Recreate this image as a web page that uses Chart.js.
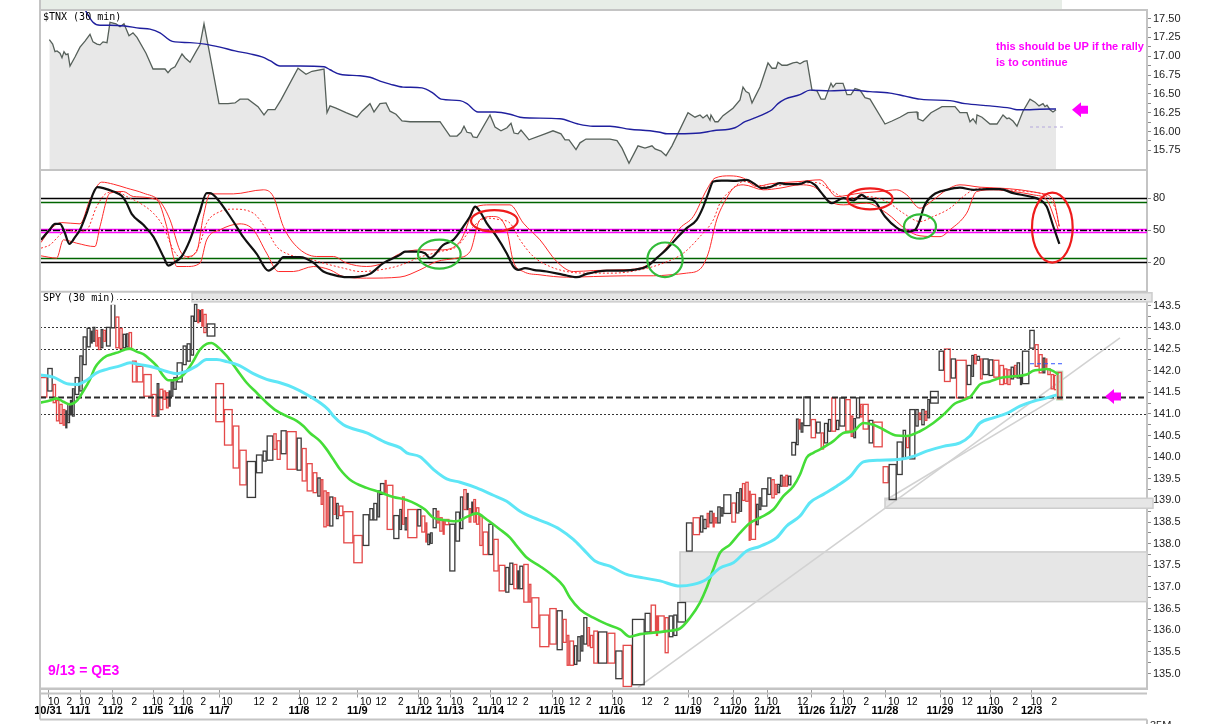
<!DOCTYPE html>
<html>
<head>
<meta charset="utf-8">
<script src="https://cdn.jsdelivr.net/npm/chart.js@4.4.1/dist/chart.umd.min.js"></script>
<style>
  html, body { margin: 0; padding: 0; background: #fff; }
  #wrap { width: 1208px; height: 724px; }
</style>
</head>
<body>
<div id="wrap"><canvas id="chart" width="1208" height="724"></canvas></div>
<script>
// x runs along cumulative SPY volume (equivolume boxes), arbitrary units
const X_MAX = 3321;

// SPY 30 min equivolume boxes
const spyVol = [22,16,10,10,10,8,6,8,6,8,14,10,12,12,6,8,8,8,8,8,14,14,12,10,10,8,10,14,20,25,15,8,12,8,8,6,8,10,18,12,12,10,10,6,6,6,10,26,26,26,20,22,28,20,12,20,10,12,18,30,15,15,
  18,14,10,8,10,8,12,8,8,14,30,28,20,12,12,8,14,6,20,18,8,8,8,30,12,12,6,8,8,12,8,10,6,14,18,14,10,10,6,8,6,8,10,10,17,15,16,20,12,12,12,6,12,16,8,24,30,22,18,12,8,
  14,10,10,8,12,8,10,14,28,24,22,28,38,18,16,6,20,12,14,12,26,20,22,10,10,8,10,6,8,10,8,24,14,10,8,10,10,6,16,8,8,18,12,10,8,8,8,8,8,10,14,8,6,8,22,
  16,14,10,12,10,14,10,18,16,8,8,12,8,18,14,28,18,24,18,10,10,18,10,8,10,8,8,26,16,20,16,32,14,8,8,10,8,18,14,18,14,10,10,10,8,10,6,22,16,12,12,8,6,10,10,10,14];
const spyHigh = [141.84,142.05,141.68,141.31,141.22,141.10,141.07,141.22,141.31,141.58,141.84,142.34,142.78,142.98,142.91,143.00,142.93,142.76,142.95,142.93,143.00,143.54,143.24,142.98,142.84,142.85,142.88,142.22,142.10,141.91,141.45,141.70,141.57,141.53,141.49,141.53,141.74,141.84,142.18,142.57,142.62,143.26,143.53,143.41,143.39,143.41,143.30,143.08,141.70,141.10,140.72,140.16,139.90,140.05,140.14,140.49,140.54,140.38,140.61,140.59,140.44,140.20,
  139.85,139.64,139.52,139.48,139.22,139.18,139.08,139.06,138.93,138.87,138.74,138.19,138.67,138.81,138.93,139.22,139.39,139.46,139.35,138.65,138.79,139.08,138.60,138.79,138.79,138.64,138.48,138.22,138.25,138.81,138.75,138.60,138.52,138.56,138.45,138.73,139.08,139.25,139.16,138.81,138.96,139.02,138.83,138.64,138.27,138.45,138.10,137.50,137.45,137.55,137.52,137.37,137.48,137.52,137.06,136.75,136.35,136.50,136.45,136.25,135.88,
  135.75,135.64,135.85,135.87,136.29,136.06,135.88,135.98,135.96,135.93,135.52,135.65,136.25,136.39,136.58,136.33,136.33,136.29,136.33,136.35,136.64,138.48,138.60,138.64,138.56,138.70,138.75,138.70,138.60,138.85,138.83,139.13,138.94,139.18,139.27,139.39,139.42,139.21,139.14,138.91,139.06,139.27,139.52,139.48,139.37,139.37,139.58,139.54,139.58,139.56,140.34,140.88,140.87,140.79,141.39,
  140.87,140.81,140.56,140.78,140.87,141.37,140.85,141.37,141.33,140.95,140.89,141.37,141.22,141.22,140.85,140.81,139.78,139.83,140.35,140.62,140.49,141.10,141.10,141.02,141.10,141.06,141.33,141.52,142.45,142.50,142.27,142.24,142.12,142.35,142.37,142.33,142.27,142.27,142.25,142.24,142.12,142.04,142.02,142.08,142.12,142.18,141.85,142.45,142.93,142.60,142.37,142.29,142.27,142.04,141.91,141.89,141.96];
const spyLow = [141.39,141.53,141.26,140.84,140.78,140.74,140.68,140.80,140.98,140.95,141.45,141.53,142.14,142.55,142.64,142.68,142.57,142.49,142.53,142.68,142.57,142.99,142.53,142.51,142.53,142.55,142.49,141.74,141.74,141.41,140.95,140.95,141.10,141.34,141.14,141.18,141.41,141.57,141.74,142.14,142.22,142.36,143.14,143.11,143.14,143.03,142.88,142.80,140.82,140.28,139.75,139.36,139.07,139.64,139.91,139.93,140.18,139.95,140.08,139.72,139.70,139.45,
  139.22,139.18,139.10,138.91,138.39,138.42,138.41,138.68,138.58,138.65,138.02,137.56,137.96,138.55,138.55,138.62,139.14,139.19,138.33,138.12,138.33,138.45,138.32,138.14,138.41,138.27,138.04,137.98,138.01,138.37,138.48,138.29,138.22,138.44,137.37,138.06,138.35,138.79,138.79,138.50,138.68,138.50,138.45,137.96,137.75,137.75,137.37,136.91,136.88,137.06,136.96,136.96,136.96,136.65,136.65,136.06,135.62,135.68,135.55,135.72,135.19,
  135.19,135.21,135.29,135.52,135.68,135.64,135.60,135.24,135.24,135.24,134.88,134.70,134.74,135.96,135.96,135.88,135.96,135.48,135.85,135.88,136.19,137.83,138.21,138.27,138.35,138.39,138.48,138.39,138.48,138.48,138.64,138.70,138.50,138.71,138.75,139.00,138.98,138.08,138.10,138.44,138.79,138.87,139.14,139.06,139.14,139.18,139.33,139.33,139.33,139.36,140.05,140.29,140.65,140.58,140.73,
  140.45,140.56,140.19,140.33,140.60,140.60,140.64,140.72,140.60,140.48,140.45,140.91,140.93,140.65,140.33,140.24,139.41,139.02,139.60,139.99,140.22,139.96,140.72,140.87,140.75,140.85,140.91,141.25,142.01,141.75,141.83,141.37,141.68,141.87,142.16,142.24,141.81,141.91,141.89,141.85,141.68,141.70,141.68,141.81,141.85,141.83,141.68,141.70,142.52,142.10,141.95,141.95,142.08,141.91,141.58,141.56,141.35];
const spyUp = [0,1,0,0,0,0,1,1,1,1,1,1,1,1,1,1,0,0,1,0,1,1,0,0,1,1,0,0,0,0,0,1,0,0,0,1,1,1,1,1,1,1,1,0,1,0,0,1,0,0,0,0,1,1,1,1,0,0,1,0,1,0,
  0,0,1,0,0,0,1,0,1,0,0,0,1,1,1,1,1,0,0,1,1,0,1,0,1,0,0,1,1,1,0,0,0,0,1,1,1,0,1,0,1,0,0,0,0,1,0,0,1,1,0,1,1,0,0,0,0,0,1,0,0,
  0,1,1,1,1,0,0,0,1,0,1,0,1,1,0,0,0,0,1,1,1,1,0,1,1,0,1,0,0,1,1,1,0,1,1,0,0,0,0,1,1,1,1,0,0,1,1,0,0,1,1,1,0,1,1,
  0,1,0,1,1,0,1,1,0,0,1,1,0,0,1,0,0,1,1,1,0,1,1,0,1,0,1,1,1,0,1,0,1,1,0,1,0,1,1,0,0,0,0,1,0,1,1,1,1,0,0,1,0,0,0,0,0];

// SPY moving averages [x, price]
const spyGreen = [[0,141.26],[30,141.31],[50,141.36],[70,141.28],[90,141.22],[110,141.30],[130,141.53],[150,141.80],[165,142.07],[180,142.22],[200,142.34],[220,142.39],[240,142.44],[255,142.49],[270,142.51],[290,142.44],[310,142.38],[330,142.26],[350,142.11],[370,141.88],[385,141.78],[400,141.78],[420,141.84],[440,141.99],[460,142.22],[480,142.49],[500,142.62],[515,142.64],[530,142.57],[560,142.34],[590,142.03],[620,141.72],[650,141.49],[680,141.26],[710,141.07],[740,140.95],[770,140.84],[790,140.72],
  [810,140.56],[840,140.37],[860,140.18],[880,139.95],[900,139.72],[930,139.48],[980,139.29],[1020,139.19],[1060,139.08],[1100,139.01],[1130,138.91],[1155,138.79],[1180,138.60],[1210,138.55],[1250,138.52],[1280,138.62],[1310,138.70],[1340,138.56],[1380,138.33],[1410,138.14],[1430,137.95],[1460,137.68],[1500,137.48],[1540,137.25],[1570,137.02],
  [1590,136.75],[1620,136.48],[1660,136.29],[1700,136.14],[1740,136.02],[1770,135.85],[1800,135.91],[1840,135.94],[1880,135.98],[1920,136.04],[1950,136.29],[1980,136.64],[2000,136.98],[2020,137.41],[2040,137.79],[2070,137.98],[2100,138.25],[2130,138.48],[2160,138.60],[2200,138.79],[2230,139.10],[2260,139.33],[2280,139.60],
  [2300,139.99],[2320,140.10],[2340,140.18],[2380,140.37],[2410,140.56],[2440,140.60],[2470,140.79],[2500,140.75],[2530,140.64],[2570,140.50],[2600,140.49],[2640,140.60],[2680,140.79],[2710,140.98],[2745,141.24],[2770,141.32],[2790,141.39],[2820,141.68],[2850,141.75],[2880,141.83],[2920,141.87],[2960,141.91],[2980,142.00],[3000,142.02],[3020,142.04],[3040,141.99],[3055,141.91]];
const spyCyan = [[0,141.90],[40,141.85],[80,141.70],[110,141.68],[140,141.78],[170,141.95],[200,142.03],[240,142.11],[270,142.18],[300,142.14],[340,142.08],[380,141.98],[410,141.93],[440,141.99],[470,142.11],[500,142.26],[530,142.26],[560,142.21],[600,142.11],[640,141.93],[680,141.80],[720,141.72],[760,141.61],[800,141.45],
  [865,141.10],[880,140.95],[910,140.75],[980,140.56],[1040,140.33],[1080,140.22],[1100,140.10],[1140,140.01],[1180,139.72],[1220,139.50],[1260,139.42],[1310,139.29],[1360,139.12],[1400,138.98],[1440,138.75],[1480,138.60],[1520,138.48],[1560,138.33],
  [1600,138.10],[1630,137.87],[1665,137.60],[1710,137.48],[1760,137.29],[1810,137.21],[1860,137.14],[1920,137.02],[1960,137.06],[2000,137.18],[2040,137.44],[2080,137.56],[2120,137.83],[2160,137.94],[2210,138.14],[2240,138.41],[2280,138.64],
  [2310,138.95],[2350,139.14],[2390,139.33],[2430,139.55],[2470,139.89],[2520,139.93],[2580,139.95],[2620,140.02],[2660,140.14],[2710,140.25],[2760,140.33],[2790,140.49],[2820,140.79],[2860,140.91],[2900,141.01],[2940,141.18],[2980,141.29],[3020,141.37],[3050,141.44]];

// $TNX 30 min and its average [x, yield]
const tnx = [[28,17.22],[38,17.16],[45,17.06],[51,17.07],[60,17.04],[66,16.98],[72,17.06],[78,17.02],[84,17.03],[90,16.87],[105,16.99],[120,17.12],[135,17.20],[150,17.29],[159,17.19],[171,17.16],[180,17.15],[189,17.19],[201,17.18],[210,17.45],[228,17.43],[240,17.39],[252,17.43],[267,17.27],[279,17.31],[291,17.25],[318,17.04],[339,16.83],[375,16.83],[384,16.78],[393,16.83],[405,16.86],[426,17.03],[435,16.98],[450,16.92],[468,17.06],[480,17.15],[492,17.43],[507,17.08],[537,16.37],[564,16.37],[585,16.38],[600,16.43],[624,16.43],[654,16.33],[672,16.22],[684,16.29],[705,16.29],[723,16.42],[774,16.84],[798,16.76],[816,16.80],[852,16.83],[861,16.25],[870,16.34],[888,16.31],[918,16.25],[951,16.19],[966,16.27],[990,16.37],[1002,16.26],[1020,16.37],[1038,16.38],[1050,16.27],[1068,16.23],[1086,16.14],[1110,16.13],[1200,16.13],[1230,15.94],[1251,15.94],[1263,15.99],[1272,16.07],[1281,15.99],[1293,15.98],[1299,15.93],[1311,15.92],[1350,16.22],[1365,16.06],[1383,16.01],[1401,16.05],[1413,16.11],[1422,15.98],[1434,15.97],[1443,16.02],[1458,15.94],[1467,15.89],[1515,15.97],[1539,16.01],[1563,15.97],[1575,15.89],[1587,15.89],[1608,15.76],[1620,15.85],[1638,15.90],[1710,15.90],[1731,15.88],[1746,15.78],[1767,15.58],[1794,15.81],[1815,15.78],[1836,15.81],[1845,15.77],[1863,15.74],[1878,15.68],[1896,15.81],[1944,16.25],[1965,16.19],[1980,16.22],[1989,16.18],[2001,16.22],[2010,16.15],[2013,16.22],[2025,16.13],[2034,16.13],[2049,16.21],[2079,16.31],[2100,16.42],[2109,16.59],[2118,16.53],[2127,16.51],[2136,16.38],[2160,16.59],[2184,16.91],[2196,16.84],[2208,16.84],[2214,16.92],[2226,16.88],[2241,16.88],[2259,16.91],[2271,16.92],[2280,16.90],[2292,16.93],[2301,16.94],[2316,16.55],[2331,16.54],[2343,16.43],[2355,16.43],[2373,16.64],[2379,16.59],[2388,16.64],[2409,16.64],[2421,16.49],[2433,16.49],[2445,16.57],[2460,16.55],[2475,16.45],[2490,16.43],[2535,16.10],[2556,16.14],[2580,16.19],[2604,16.25],[2631,16.26],[2634,16.17],[2649,16.14],[2673,16.25],[2706,16.33],[2745,16.33],[2760,16.25],[2781,16.25],[2790,16.13],[2799,16.17],[2808,16.11],[2811,16.22],[2826,16.19],[2850,16.10],[2871,16.10],[2889,16.22],[2901,16.17],[2907,16.18],[2919,16.14],[2931,16.07],[2949,16.27],[2970,16.43],[2985,16.39],[2997,16.34],[3009,16.37],[3015,16.33],[3021,16.35],[3030,16.29],[3039,16.26],[3048,16.29]];
const tnxMA = [[132,17.64],[159,17.45],[180,17.41],[210,17.41],[255,17.40],[300,17.37],[330,17.36],[360,17.31],[390,17.21],[405,17.19],[450,17.18],[495,17.16],[540,17.12],[585,17.07],[630,17.03],[666,16.99],[690,16.94],[720,16.87],[780,16.87],[852,16.86],[870,16.82],[900,16.76],[960,16.74],[990,16.72],[1020,16.67],[1050,16.63],[1089,16.59],[1146,16.58],[1179,16.51],[1203,16.43],[1260,16.41],[1281,16.37],[1314,16.26],[1365,16.26],[1410,16.23],[1440,16.19],[1470,16.18],[1560,16.17],[1614,16.10],[1659,16.07],[1710,16.07],[1770,16.03],[1830,16.01],[1860,15.99],[1881,15.97],[1914,15.97],[1980,15.98],[2019,16.01],[2085,16.05],[2115,16.13],[2139,16.17],[2181,16.25],[2196,16.29],[2214,16.37],[2235,16.43],[2280,16.49],[2310,16.55],[2370,16.54],[2430,16.55],[2490,16.53],[2550,16.51],[2595,16.47],[2640,16.43],[2670,16.42],[2730,16.41],[2775,16.37],[2850,16.34],[2910,16.31],[2931,16.29],[2970,16.29],[3030,16.30],[3048,16.30]];

// oscillator pane: main line, signal and bands [x, value]
const oscK = [[3,40.9],[30,50.9],[45,55.9],[60,55.9],[73,48.7],[88,37.2],[105,43.4],[120,50.3],[140,65.9],[160,84.7],[172,90.3],[190,89.4],[220,86.2],[245,82.2],[260,75.3],[275,65.3],[310,55.0],[340,44.0],[370,25.3],[385,16.8],[400,19.1],[425,25.3],[450,40.9],[478,65.9],[500,84.7],[510,84.7],[530,80.0],[580,58.1],[610,43.4],[650,27.8],[685,12.1],[710,17.5],[730,24.7],[780,24.7],[820,19.6],[850,11.2],[880,8.1],[920,5.9],[960,6.5],[990,9.0],[1030,19.1],[1080,26.8],
  [1095,29.9],[1130,29.9],[1155,28.4],[1170,23.8],[1210,36.2],[1240,40.9],[1270,53.4],[1290,62.8],[1305,72.1],[1320,67.4],[1340,56.6],[1370,44.0],[1400,28.4],[1420,15.9],[1435,12.8],[1455,14.4],[1480,12.8],[1520,11.2],[1570,8.1],[1610,5.9],[1640,9.0],[1700,12.1],[1740,12.1],[1780,12.8],[1820,15.9],[1850,23.8],[1880,32.2],[1910,42.5],[1940,51.9],[1970,59.7],[1990,72.1],[2005,84.7],[2020,95.6],[2045,96.5],[2080,96.2],[2120,97.2],[2140,94.1],[2165,89.4],[2190,90.3],[2220,94.1],[2240,93.1],[2280,93.4],
  [2302,95.6],[2325,92.5],[2345,84.7],[2375,75.3],[2410,80.0],[2440,77.8],[2465,83.1],[2480,80.0],[2505,76.8],[2535,62.8],[2570,52.4],[2600,48.7],[2625,50.3],[2640,59.7],[2652,72.1],[2680,83.1],[2720,87.8],[2760,89.9],[2800,87.8],[2840,88.4],[2880,88.4],[2920,84.7],[2970,81.5],[3000,78.4],[3020,72.1],[3040,53.4],[3058,37.2]];
const oscD = [[3,33.1],[30,36.2],[55,44.0],[80,50.3],[110,48.7],[140,50.3],[170,72.1],[200,84.7],[230,86.2],[260,81.5],[300,75.3],[340,65.9],[370,53.4],[400,31.5],[425,23.8],[455,25.3],[480,37.8],[500,56.6],[540,67.4],[580,69.7],[640,65.9],[680,50.3],[710,34.6],[750,26.8],[800,23.8],[850,19.1],[910,14.4],[960,11.2],[1020,12.8],[1080,17.0],
  [1140,24.7],[1200,29.9],[1250,34.6],[1300,53.4],[1340,61.3],[1380,59.7],[1410,56.6],[1440,40.9],[1480,25.3],[1530,15.9],[1580,11.2],[1640,9.7],[1720,9.7],[1800,12.8],[1870,19.1],[1930,28.4],[1980,44.0],[2020,59.7],[2040,75.3],[2080,89.4],[2110,95.6],[2150,92.5],[2190,90.9],[2230,92.5],[2280,94.1],
  [2330,94.6],[2370,87.8],[2420,80.0],[2480,81.5],[2540,76.8],[2590,65.9],[2640,58.1],[2680,62.8],[2730,70.6],[2770,81.5],[2800,87.8],[2840,89.4],[2900,87.8],[2960,86.2],[3020,81.5],[3050,65.9],[3058,52.0]];
const oscUp = [[3,38.4],[30,50.3],[65,57.1],[120,55.9],[150,78.4],[185,95.0],[220,93.1],[260,89.4],[310,84.7],[360,76.8],[390,59.7],[420,30.9],[440,25.3],[470,29.9],[490,62.8],[510,84.0],[580,84.0],[670,87.8],[700,81.5],[730,53.4],[770,34.6],[830,25.3],[880,25.3],[920,19.1],[980,15.9],[1030,19.1],[1080,28.0],
  [1140,31.5],[1200,31.5],[1260,39.3],[1310,72.1],[1350,73.7],[1410,73.7],[1450,56.6],[1500,40.9],[1550,20.6],[1600,11.2],[1660,12.1],[1740,12.8],[1800,14.4],[1870,29.9],[1920,51.9],[1960,62.8],[2000,87.8],[2025,98.8],[2070,100.9],[2110,98.8],[2150,90.9],[2190,93.4],[2230,94.6],[2280,95.6],
  [2340,97.2],[2390,81.5],[2460,84.7],[2520,86.2],[2570,87.8],[2600,83.1],[2640,70.6],[2680,78.4],[2720,87.8],[2760,92.5],[2820,90.3],[2880,89.4],[2940,87.8],[3000,84.7],[3040,78.4],[3058,53.4]];
const oscLo = [[3,25.9],[50,23.8],[70,40.9],[110,37.8],[165,34.6],[180,53.4],[210,84.7],[250,86.2],[280,81.5],[350,78.4],[380,53.4],[400,25.3],[410,15.9],[440,15.9],[480,19.1],[500,40.9],[540,50.3],[600,55.9],[640,50.3],[680,28.4],[715,11.2],[760,11.2],[820,15.9],[870,12.8],[910,6.5],[980,5.0],[1080,6.0],
  [1140,12.8],[1190,20.6],[1250,23.8],[1290,29.9],[1320,59.7],[1360,62.8],[1400,50.3],[1420,20.6],[1450,11.2],[1500,8.1],[1580,5.9],[1660,6.5],[1760,7.2],[1840,7.2],[1890,8.1],[1940,9.7],[1980,13.4],[2005,28.4],[2030,59.7],[2060,80.0],[2080,89.4],[2110,92.5],[2170,87.8],[2220,89.4],[2280,92.5],
  [2320,90.9],[2370,76.8],[2410,73.7],[2480,75.3],[2540,65.9],[2600,50.3],[2640,44.7],[2700,43.9],[2730,50.3],[2780,65.9],[2810,86.2],[2860,87.8],[2920,86.2],[2980,83.1],[3020,78.4],[3045,59.7],[3055,50.3]];

// axis ticks
const tnxTicks = [15.75, 16.00, 16.25, 16.50, 16.75, 17.00, 17.25, 17.50];
const oscTicks = [20, 50, 80];
const spyTicks = [135.0, 135.5, 136.0, 136.5, 137.0, 137.5, 138.0, 138.5, 139.0, 139.5, 140.0, 140.5, 141.0, 141.5, 142.0, 142.5, 143.0, 143.5];
const dayPos = [24,120,218,339,430,538,777,952,1136,1232,1352,1536,1716,1944,2080,2183,2315,2409,2535,2700,2850,2975];
const dayLabels = ['10/31','11/1','11/2','11/5','11/6','11/7','11/8','11/9','11/12','11/13','11/14','11/15','11/16','11/19','11/20','11/21','11/26','11/27','11/28','11/29','11/30','12/3'];
const hourPos = [41,88,134,182,230,283,351,394,439,490,561,657,705,789,843,884,977,1023,1082,1150,1196,1250,1306,1368,1416,1457,1555,1604,1646,1732,1821,1879,1969,2029,2087,2151,2197,2288,2378,2421,2479,2561,2616,2723,2782,2862,2926,2989,3043];
const hourLabels = ['10','2','10','2','10','2','10','2','10','2','10','12','2','10','12','2','10','12','2','10','2','10','2','10','12','2','10','12','2','10','12','2','10','2','10','2','10','12','2','10','2','10','12','10','12','10','2','10','2'];

// drawn studies and notes
const oscLevels = [80, 76.25, 51.5, 50, 48.2, 23.75, 20];
const spyLevels = [143.66, 143.0, 142.5, 141.38, 141.0];
const spyZones = [[456, 3336, 143.80, 143.59], [2535, 3339, 139.05, 138.82], [1920, 3321, 137.81, 136.66]];
const spyTrend = [[1794, 134.68, 3240, 142.76], [2535, 139.00, 3069, 141.47]];
const oscCircles = [[1363, 58.7, 70, 10.1, 'red'], [1198, 27.5, 64, 13.6, 'green'], [1875, 22.2, 53, 16.2, 'green'],
                    [2490, 79.3, 68, 9.8, 'red'], [2640, 53.4, 48, 11.4, 'green'], [3037, 52.4, 61, 32.8, 'red']];
const notes = [['this should be UP if the rally', 2868, 17.12], ['is to continue', 2868, 16.91]];
const qeNote = ['9/13 = QE3', 24, 135.05];
const tnxArrow = [3096, 16.29];
const spyArrow = [3195, 141.40];
const tnxMark = [2970, 3072, 16.06];
const spyMark = [2970, 3072, 142.16];

Chart.defaults.font.family = "'Liberation Sans', Arial, sans-serif";

const toXY = a => a.map(p => ({ x: p[0], y: p[1] }));
const mids = t => t.slice(1).map((v, i) => (v + t[i]) / 2);

function series(data, axis, color, width, extra) {
  return Object.assign({
    data: toXY(data), yAxisID: axis, borderColor: color, borderWidth: width,
    pointRadius: 0, fill: false, tension: 0
  }, extra || {});
}

function yAxis(weight, min, max, ticks, fmt, minor) {
  return {
    type: 'linear', position: 'right', stack: 'panes', stackWeight: weight, min: min, max: max,
    afterBuildTicks: s => { s.ticks = (minor ? ticks.concat(mids(ticks)) : ticks).map(v => ({ value: v })); },
    afterFit: s => { s.width = 61; },
    ticks: { autoSkip: false, padding: 2, color: '#222', font: { size: 11 },
             callback: v => ticks.includes(v) ? fmt(v) : '' },
    grid: { drawOnChartArea: false, tickLength: 4, color: '#8a8a8a' },
    border: { display: true, color: '#c4c4c4', width: 2 }
  };
}

const smooth = { cubicInterpolationMode: 'monotone' };

const panes = {
  id: 'panes',
  beforeDatasetsDraw(chart) {
    const { ctx, chartArea: ca } = chart;
    const { x, yT, yO, yS } = chart.scales;
    const X = v => x.getPixelForValue(v);
    const total = spyVol.reduce((a, b) => a + b, 0);

    // strip of the pane cut off above
    ctx.fillStyle = '#e7ede7';
    ctx.fillRect(ca.left + 1, 0, X(total) - ca.left - 1, yT.top);

    // SPY pane: zones, trend lines, boxes, levels
    ctx.save();
    ctx.beginPath();
    ctx.rect(ca.left, yS.top, ca.right - ca.left + 7, yS.bottom - yS.top);
    ctx.clip();
    spyZones.forEach(z => {
      const x0 = X(z[0]), x1 = X(z[1]), y0 = yS.getPixelForValue(z[2]), y1 = yS.getPixelForValue(z[3]);
      ctx.fillStyle = '#e6e6e6';
      ctx.fillRect(x0, y0, x1 - x0, y1 - y0);
      ctx.strokeStyle = '#cdcdcd';
      ctx.lineWidth = 1.5;
      ctx.strokeRect(x0, y0, x1 - x0, y1 - y0);
    });
    ctx.restore();

    ctx.save();
    ctx.beginPath();
    ctx.rect(ca.left, yS.top, ca.right - ca.left, yS.bottom - yS.top);
    ctx.clip();
    ctx.strokeStyle = '#d2d2d2';
    ctx.lineWidth = 1.6;
    spyTrend.forEach(t => {
      ctx.beginPath();
      ctx.moveTo(X(t[0]), yS.getPixelForValue(t[1]));
      ctx.lineTo(X(t[2]), yS.getPixelForValue(t[3]));
      ctx.stroke();
    });

    let cum = 0;
    spyVol.forEach((v, i) => {
      const x0 = X(cum), x1 = X(cum + v);
      cum += v;
      const y0 = yS.getPixelForValue(spyHigh[i]), y1 = yS.getPixelForValue(spyLow[i]);
      if (i === spyVol.length - 1) {
        ctx.strokeStyle = '#bcdcbc';
        ctx.lineWidth = 3.5;
        ctx.strokeRect(x0 + 0.5, y0, x1 - x0 - 1, y1 - y0);
      }
      ctx.strokeStyle = spyUp[i] ? '#3a3a3a' : '#e44848';
      ctx.lineWidth = 1.3;
      ctx.strokeRect(x0 + 0.5, y0, x1 - x0 - 1, y1 - y0);
    });

    spyLevels.forEach(lv => {
      const yy = Math.round(yS.getPixelForValue(lv)) + 0.5;
      const heavy = lv === 141.38;
      ctx.strokeStyle = heavy ? '#2a2a2a' : '#333';
      ctx.lineWidth = heavy ? 2 : 1;
      ctx.setLineDash(heavy ? [6, 3] : [2, 2]);
      ctx.beginPath();
      ctx.moveTo(ca.left, yy);
      ctx.lineTo(ca.right, yy);
      ctx.stroke();
    });
    ctx.strokeStyle = '#3355ff';
    ctx.lineWidth = 1;
    ctx.setLineDash([4, 3]);
    ctx.beginPath();
    ctx.moveTo(X(spyMark[0]), yS.getPixelForValue(spyMark[2]));
    ctx.lineTo(X(spyMark[1]), yS.getPixelForValue(spyMark[2]));
    ctx.stroke();
    ctx.restore();

    // oscillator levels
    const lvColors = ['#000', '#006400', '#ff00ff', '#000', '#ff00ff', '#006400', '#000'];
    ctx.save();
    oscLevels.forEach((lv, i) => {
      const yy = Math.round(yO.getPixelForValue(lv)) + 0.5;
      ctx.strokeStyle = lvColors[i];
      ctx.lineWidth = 1.3;
      ctx.setLineDash(lv === 50 ? [7, 2, 2, 2] : []);
      ctx.beginPath();
      ctx.moveTo(ca.left, yy);
      ctx.lineTo(ca.right, yy);
      ctx.stroke();
    });
    ctx.restore();
  },

  afterDatasetsDraw(chart) {
    const { ctx, chartArea: ca } = chart;
    const { x, yT, yO, yS } = chart.scales;
    const X = v => x.getPixelForValue(v);
    const axisBottom = Math.round(ca.bottom + 30) + 0.5;

    // TNX reference dash
    ctx.save();
    ctx.strokeStyle = '#b4a8dc';
    ctx.lineWidth = 1;
    ctx.setLineDash([3, 3]);
    ctx.beginPath();
    ctx.moveTo(X(tnxMark[0]), yT.getPixelForValue(tnxMark[2]));
    ctx.lineTo(X(tnxMark[1]), yT.getPixelForValue(tnxMark[2]));
    ctx.stroke();
    ctx.restore();

    // circled spots on the oscillator
    ctx.save();
    ctx.lineWidth = 2.2;
    oscCircles.forEach(c => {
      const cx = X(c[0]), cy = yO.getPixelForValue(c[1]);
      const rx = Math.abs(X(c[0] + c[2]) - cx), ry = Math.abs(yO.getPixelForValue(c[1] + c[3]) - cy);
      ctx.strokeStyle = c[4] === 'red' ? '#ee1c1c' : '#33bb3a';
      ctx.beginPath();
      ctx.ellipse(cx, cy, rx, ry, 0, 0, Math.PI * 2);
      ctx.stroke();
    });
    ctx.restore();

    // magenta arrows
    ctx.save();
    ctx.fillStyle = '#ff00ff';
    [[tnxArrow, yT], [spyArrow, yS]].forEach(a => {
      const tx = X(a[0][0]), ty = a[1].getPixelForValue(a[0][1]);
      ctx.beginPath();
      ctx.moveTo(tx, ty);
      ctx.lineTo(tx + 9, ty - 7.5);
      ctx.lineTo(tx + 9, ty - 4);
      ctx.lineTo(tx + 16, ty - 4);
      ctx.lineTo(tx + 16, ty + 4);
      ctx.lineTo(tx + 9, ty + 4);
      ctx.lineTo(tx + 9, ty + 7.5);
      ctx.closePath();
      ctx.fill();
    });

    // notes
    ctx.textBaseline = 'middle';
    ctx.textAlign = 'left';
    ctx.font = "bold 11px 'Liberation Sans', Arial, sans-serif";
    notes.forEach(n => ctx.fillText(n[0], X(n[1]), yT.getPixelForValue(n[2])));
    ctx.font = "bold 14px 'Liberation Sans', Arial, sans-serif";
    ctx.fillText(qeNote[0], X(qeNote[1]), yS.getPixelForValue(qeNote[2]));

    // pane titles
    ctx.font = "10px 'DejaVu Sans Mono', monospace";
    ctx.fillStyle = '#000';
    ctx.fillText('$TNX (30 min)', ca.left + 3, yT.top + 7.5);
    const w = ctx.measureText('SPY (30 min)').width;
    ctx.fillStyle = '#fff';
    ctx.fillRect(ca.left + 1, yS.top + 1, w + 4, 12);
    ctx.fillStyle = '#000';
    ctx.fillText('SPY (30 min)', ca.left + 3, yS.top + 7);

    // frame
    ctx.strokeStyle = '#c4c4c4';
    ctx.lineWidth = 2;
    [yT.top, yT.bottom, yO.bottom, yS.bottom, yS.bottom + 5, axisBottom].forEach(yy => {
      ctx.beginPath();
      ctx.moveTo(ca.left, yy);
      ctx.lineTo(ca.right, yy);
      ctx.stroke();
    });
    ctx.beginPath();
    ctx.moveTo(ca.left, 0);
    ctx.lineTo(ca.left, axisBottom);
    ctx.moveTo(ca.right, axisBottom);
    ctx.lineTo(ca.right, chart.height);
    ctx.stroke();

    ctx.fillStyle = '#222';
    ctx.font = "11px 'Liberation Sans', Arial, sans-serif";
    ctx.textBaseline = 'top';
    ctx.fillText('35M', ca.right + 3, axisBottom + 1);
    ctx.restore();
  }
};

new Chart(document.getElementById('chart'), {
  type: 'line',
  data: {
    datasets: [
      series(tnxMA, 'yT', '#1f1f9e', 1.4, smooth),
      series(tnx, 'yT', '#56605a', 1.3, { fill: 'start', backgroundColor: '#e8e8e8' }),
      series(oscK, 'yO', '#111111', 2.2, smooth),
      series(oscD, 'yO', '#ff2a2a', 1, Object.assign({ borderDash: [2, 2] }, smooth)),
      series(oscUp, 'yO', '#ff2a2a', 1, smooth),
      series(oscLo, 'yO', '#ff2a2a', 1, smooth),
      series(spyCyan, 'yS', '#5ee6f6', 3, smooth),
      series(spyGreen, 'yS', '#45dd38', 2.6, smooth)
    ]
  },
  options: {
    responsive: false,
    animation: false,
    events: [],
    layout: { padding: { left: 40, top: 10, right: 0, bottom: 8 } },
    plugins: { legend: { display: false }, tooltip: { enabled: false } },
    scales: {
      x: {
        type: 'linear', position: 'bottom', min: 0, max: X_MAX,
        afterBuildTicks: s => { s.ticks = dayPos.concat(hourPos).map(v => ({ value: v })); },
        ticks: {
          autoSkip: false, maxRotation: 0, minRotation: 0, padding: -0.75, color: '#000',
          font: { size: 10, lineHeight: 1 },
          callback: (v, i) => i < dayPos.length ? '' : hourLabels[i - dayPos.length]
        },
        grid: {
          drawOnChartArea: false, tickLength: 9,
          tickColor: c => c.index < dayPos.length ? '#9a9a9a' : 'rgba(0,0,0,0)'
        },
        border: { display: true, color: '#c4c4c4', width: 2 }
      },
      x2: {
        type: 'linear', position: 'bottom', min: 0, max: X_MAX,
        afterBuildTicks: s => { s.ticks = dayPos.map(v => ({ value: v })); },
        ticks: {
          autoSkip: false, maxRotation: 0, minRotation: 0, padding: -0.5, color: '#000',
          font: { size: 11, weight: 'bold', lineHeight: 1 }, callback: (v, i) => dayLabels[i]
        },
        grid: { display: false, drawTicks: false, tickLength: 0 },
        border: { display: false }
      },
      yT: yAxis(160, 15.491, 17.613, tnxTicks, v => v.toFixed(2), true),
      yO: yAxis(122, -7.8, 106.5, oscTicks, v => String(v), false),
      yS: yAxis(397, 134.653, 143.823, spyTicks, v => v.toFixed(1), true)
    }
  },
  plugins: [panes]
});
</script>
</body>
</html>
